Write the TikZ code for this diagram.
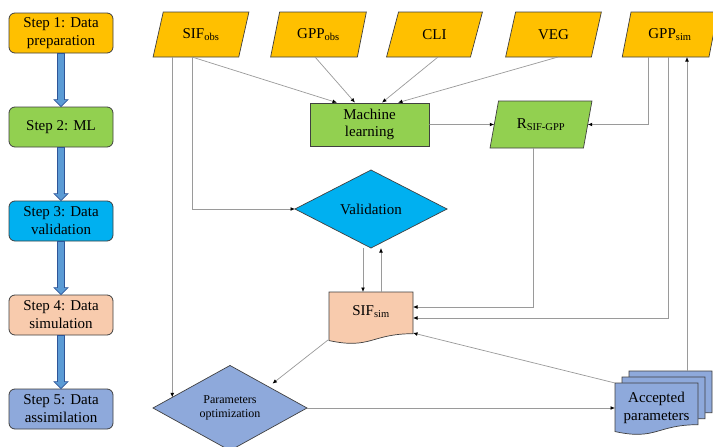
\documentclass[tikz,border=0pt]{standalone}
\usepackage{fontspec}
\setmainfont{Liberation Serif}
\usetikzlibrary{shapes.geometric,arrows.meta,calc}
\definecolor{cyel}{HTML}{FFC000}
\definecolor{cgrn}{HTML}{92D050}
\definecolor{cblu}{HTML}{00B0F0}
\definecolor{cpch}{HTML}{F8CBAD}
\definecolor{cprp}{HTML}{8EA9DB}
\definecolor{carr}{HTML}{5B9BD5}
\definecolor{carrd}{HTML}{2F5597}
\definecolor{cline}{HTML}{9A9A9A}
\definecolor{cedge}{HTML}{404040}
\newcommand\docshape[5]{\filldraw[#5] (#1,#2) -- ({#1+#3},#2) -- ({#1+#3},{#2+0.802*#4}) .. controls ({#1+0.5*#3},{#2+0.802*#4}) and ({#1+0.5*#3},{#2+1.107*#4}) .. (#1,{#2+0.934*#4}) -- cycle;}
\begin{document}
\begin{tikzpicture}[x=1pt,y=-1pt,
  stepbox/.style={draw=cedge, line width=0.8pt, rounded corners=6pt, minimum width=104pt, minimum height=40pt, align=center, font=\fontsize{15}{18}\selectfont, inner sep=0pt},
  steparr/.style={fill=carr, draw=carrd, line width=0.7pt, line join=miter},
  para/.style={trapezium, trapezium left angle=68.2, trapezium right angle=111.8, trapezium stretches=true, minimum width=96pt, minimum height=45pt, draw=cedge, line width=0.7pt, fill=cyel, inner sep=0pt, outer sep=0pt, font=\fontsize{15}{18}\selectfont},
  dia/.style={diamond, draw=cedge, line width=0.7pt, inner sep=0pt, outer sep=0pt, align=center},
  docst/.style={draw=cedge, line width=0.7pt},
  conn/.style={draw=cline, line width=0.7pt, -{Latex[length=4.5pt,width=3.8pt,color=black]}},
  txt/.style={align=center, inner sep=0pt, outer sep=0pt}
]
\fill[white] (0,0) rectangle (713,447);
\useasboundingbox (0,0) rectangle (713,447);

% left steps
\node[stepbox, fill=cyel] (s1) at (61,33) {Step 1: Data\\preparation};
\node[stepbox, fill=cgrn] (s2) at (61,127) {Step 2: ML};
\node[stepbox, fill=cblu] (s3) at (61,221) {Step 3: Data\\validation};
\node[stepbox, fill=cpch] (s4) at (61,315) {Step 4: Data\\simulation};
\node[stepbox, fill=cprp] (s5) at (61,409) {Step 5: Data\\assimilation};
\foreach \a/\b in {s1/s2,s2/s3,s3/s4,s4/s5}
  \draw[steparr] ($(\a.south)+(-3.5,0)$) -- ($(\b.north)+(-3.5,-7)$) -- ($(\b.north)+(-7,-7)$) -- (\b.north) -- ($(\b.north)+(7,-7)$) -- ($(\b.north)+(3.5,-7)$) -- ($(\a.south)+(3.5,0)$) -- cycle;

% top inputs
\node[para] (sifobs) at (201,34.5) {SIF\textsubscript{obs}};
\node[para] (gppobs) at (318.5,34.5) {GPP\textsubscript{obs}};
\node[para] (cli) at (434.5,34.5) {CLI};
\node[para] (veg) at (553.5,34.5) {VEG};
\node[para] (gppsim) at (670,34.5) {GPP\textsubscript{sim}};

% machine learning
\node[draw=cedge, line width=0.7pt, fill=cgrn, minimum width=119pt, minimum height=43pt, align=center, inner sep=0pt, font=\fontsize{15}{17.5}\selectfont] (ml) at (369.5,124.5) {Machine\\learning};
\node[para, fill=cgrn, minimum width=102pt, minimum height=47pt] (rsif) at (541,124.5) {R\textsubscript{SIF-GPP}};
\coordinate (rsifr) at ($(rsif.bottom right corner)!0.5!(rsif.top right corner)$);

% validation
\node[dia, fill=cblu, minimum width=152pt, minimum height=78pt, font=\fontsize{15}{18}\selectfont] (val) at (371,209) {Validation};

% SIF sim document
\docshape{329}{292}{84}{52}{docst, fill=cpch}
\node[txt, minimum width=84pt, minimum height=40pt, font=\fontsize{15}{18}\selectfont] (sifsim) at (371,312) {SIF\textsubscript{sim}};
\coordinate (sifsimbl) at (328,340);
\coordinate (sifsimbr) at (413,333);

% parameters optimization
\node[dia, fill=cprp, minimum width=154pt, minimum height=78pt, font=\fontsize{12}{14}\selectfont] (paropt) at (230,408) {Parameters\\optimization};

% accepted parameters (multi document)
\docshape{629}{371}{83}{52}{docst, fill=cprp}
\docshape{622}{377}{83}{52}{docst, fill=cprp}
\docshape{615}{383}{83}{52}{docst, fill=cprp}
\node[txt, minimum width=83pt, minimum height=50pt, font=\fontsize{15}{18}\selectfont] (acc) at (656.5,408) {Accepted\\parameters};
\coordinate (acctop) at (687,371);

% connectors
\draw[conn] ([xshift=-9pt]sifobs.south) -- ([xshift=-32.5pt]ml.north);
\draw[conn] ([xshift=-3.5pt]gppobs.south) -- ([xshift=-14.5pt]ml.north);
\draw[conn] ([xshift=3.5pt]cli.south) -- ([xshift=12.5pt]ml.north);
\draw[conn] ([xshift=4.5pt]veg.south) -- ([xshift=28.5pt]ml.north);
\draw[conn] (ml) -- (rsif);
\draw[conn] ([xshift=-22pt]gppsim.south) |- (rsifr);
\draw[conn] ([xshift=-8pt]rsif.south) |- ([yshift=5pt]sifsim.east);
\draw[conn] ([xshift=-2pt]gppsim.south) |- ([yshift=-6pt]sifsim.east);
\draw[conn] ([xshift=-9pt]sifobs.south) |- (val.west);
\coordinate (po1) at ($(paropt.west)!0.25!(paropt.north)$);
\draw[conn] (sifobs.south -| po1) -- (po1);
\draw[conn] ([xshift=-8pt]val.south) -- ([xshift=-8pt]sifsim.north);
\draw[conn] ([xshift=10pt]sifsim.north) -- ([xshift=10pt]val.south);
\draw[conn, shorten >=5pt] (sifsimbl) -- ($(paropt.north)!0.5!(paropt.east)$);
\draw[conn] (acc.north west) -- (sifsimbr);
\draw[conn] (paropt.east) -- (paropt.east -| acc.west);
\draw[conn] (acctop) -- (acctop |- gppsim.south);
\end{tikzpicture}
\end{document}
